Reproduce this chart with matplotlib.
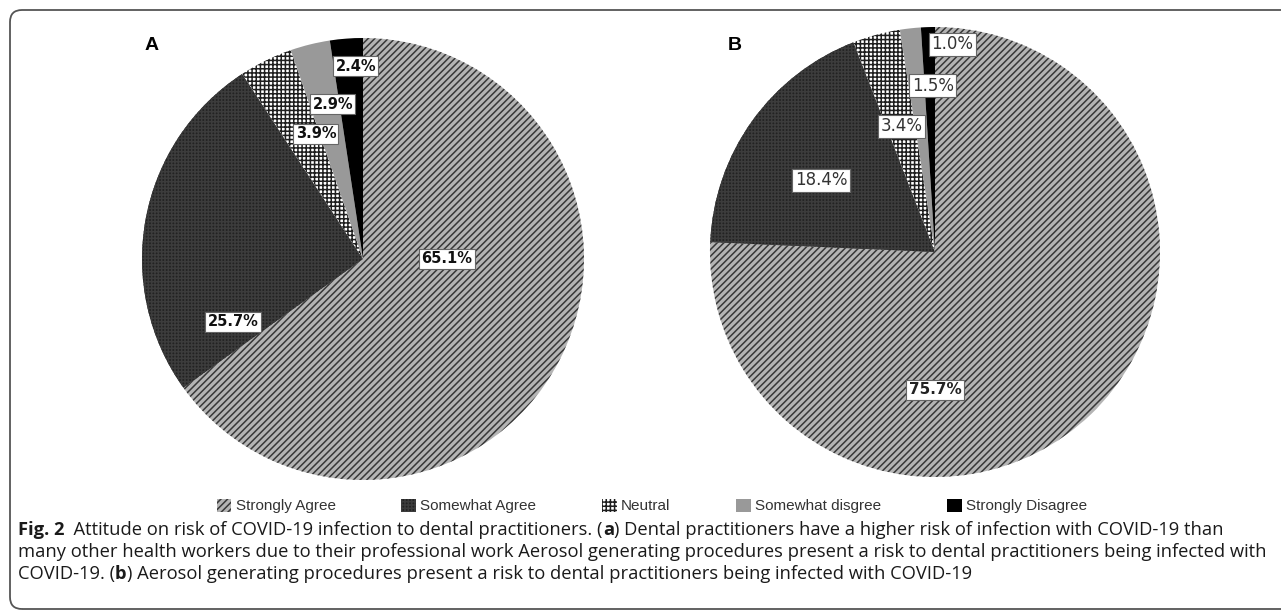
import matplotlib
matplotlib.use("Agg")
import matplotlib.pyplot as plt
from matplotlib.patches import FancyBboxPatch

# ---------------- data ----------------
categories = ["Strongly Agree", "Somewhat Agree", "Neutral", "Somewhat disgree", "Strongly Disagree"]
values_a = [65.1, 25.7, 3.9, 2.9, 2.4]
values_b = [75.7, 18.4, 3.4, 1.5, 1.0]
panel_titles = ["A", "B"]

caption_lines = [
    [("Fig. 2", "bold"), ("  Attitude on risk of COVID-19 infection to dental practitioners. (", "normal"), ("a", "bold"),
     (") Dental practitioners have a higher risk of infection with COVID-19 than", "normal")],
    [("many other health workers due to their professional work Aerosol generating procedures present a risk to dental practitioners being infected with", "normal")],
    [("COVID-19. (", "normal"), ("b", "bold"), (") Aerosol generating procedures present a risk to dental practitioners being infected with COVID-19", "normal")],
]

# ---------------- styles ----------------
plt.rcParams["hatch.linewidth"] = 1.1
face = ["#b4b4b4", "#222222", "#ffffff", "#999999", "#000000"]
hatch_col = ["#383838", "#3c3c3c", "#1e1e1e", "#999999", "#000000"]
hatches = ["/////", "+++++", "++++", None, None]

# label positions (fraction of radius) -- placement only
label_pos_a = [(0.38, 0.0), (-0.588, -0.285), (-0.213, 0.566), (-0.136, 0.701), (-0.032, 0.873)]
label_pos_b = [(0.0, -0.613), (-0.507, 0.32), (-0.147, 0.56), (-0.009, 0.738), (0.076, 0.924)]

W, H = 1281, 611
fig = plt.figure(figsize=(W / 100, H / 100), dpi=100)

# outer rounded frame (extends beyond the right edge)
frame = FancyBboxPatch((0.10, 0.02), 20.0, 5.99, boxstyle="round,pad=0,rounding_size=0.12",
                       transform=fig.dpi_scale_trans, facecolor="none", edgecolor="#555555",
                       linewidth=1.3, zorder=0)
fig.patches.append(frame)


def make_pie(cx, cy, r, values, label_pos, label_font, title, title_xy):
    ax = fig.add_axes([(cx - r) / W, (H - cy - r) / H, 2 * r / W, 2 * r / H])
    wedges, _ = ax.pie(values, startangle=90, counterclock=False, radius=1.0,
                       wedgeprops=dict(linewidth=0))
    for w, fc, hc, h in zip(wedges, face, hatch_col, hatches):
        w.set_facecolor(fc)
        w.set_edgecolor(hc)
        w.set_linewidth(0)
        if h:
            w.set_hatch(h)
    ax.set_xlim(-1, 1)
    ax.set_ylim(-1, 1)
    ax.set_aspect("auto")
    for v, (lx, ly), lf in zip(values, label_pos, label_font):
        ax.text(lx, ly, f"{v:.1f}%", ha="center", va="center", **lf,
                bbox=dict(boxstyle="square,pad=0.15", facecolor="white", edgecolor="#666666", linewidth=0.8))
    fig.text(title_xy[0] / W, 1 - title_xy[1] / H, title, fontsize=14, fontweight="bold",
             family="Liberation Sans", ha="center", va="center")
    return wedges


font_a = [dict(fontsize=10.5, fontweight="bold", family="DejaVu Sans", color="#111111")] * 5
font_b = [dict(fontsize=11, fontweight="bold", family="DejaVu Sans", color="#222222")] + \
         [dict(fontsize=12, fontweight="normal", family="DejaVu Sans", color="#333333")] * 4

wedges_a = make_pie(363, 259, 221, values_a, label_pos_a, font_a, panel_titles[0], (152, 45))
wedges_b = make_pie(935, 252, 225, values_b, label_pos_b, font_b, panel_titles[1], (735, 45))

# legend
leg = fig.legend(wedges_a, categories, loc="center", bbox_to_anchor=(652 / W, 1 - 506 / H),
                 ncol=5, frameon=False, handlelength=0.95, handleheight=0.95, handletextpad=0.3,
                 columnspacing=4.3, prop=dict(family="Liberation Sans", size=11))
for t in leg.get_texts():
    t.set_color("#333333")

# caption with mixed weights; size fitted so that first line spans the reference width
renderer = fig.canvas.get_renderer()
cap_family = "Open Sans"
base = 10.0
probe_w = 0
for txt, wt in caption_lines[0]:
    t = fig.text(0, 0, txt, fontsize=base, fontweight=wt, family=cap_family)
    probe_w += t.get_window_extent(renderer).width
    t.remove()
cap_size = base * (1212 / probe_w)

cap_y = [530, 552, 574]
for parts, yy in zip(caption_lines, cap_y):
    x = 18
    for txt, wt in parts:
        t = fig.text(x / W, 1 - yy / H, txt, fontsize=cap_size, fontweight=wt, family=cap_family,
                     ha="left", va="center", color="#1a1a1a")
        bb = t.get_window_extent(renderer)
        x += bb.width

fig.savefig("out.png", dpi=100)
